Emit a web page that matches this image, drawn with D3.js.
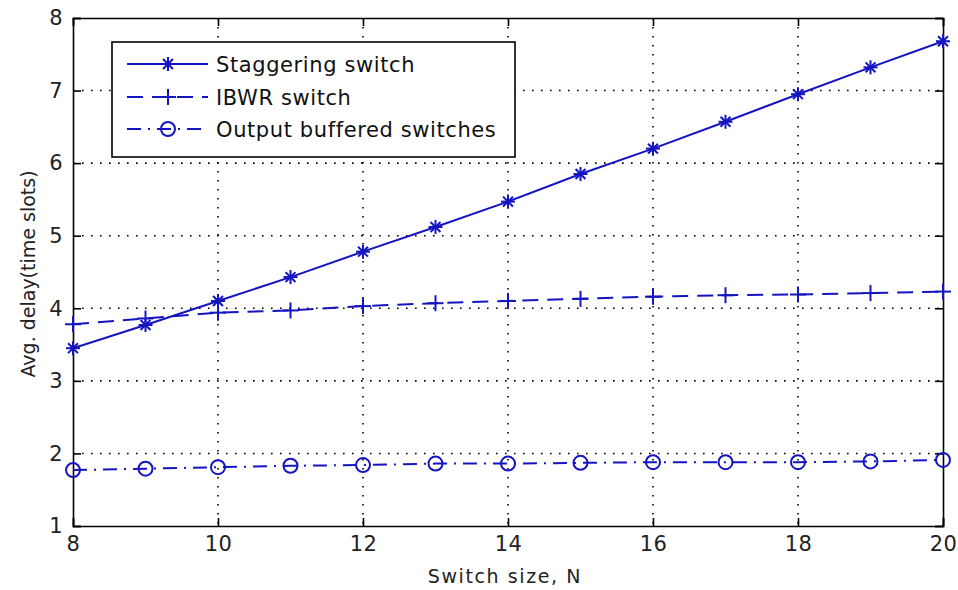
<!DOCTYPE html>
<html><head><meta charset="utf-8">
<script src="https://cdn.jsdelivr.net/npm/d3@7"></script>
<style>body{margin:0;background:#fff}svg{display:block}text{font-family:"DejaVu Sans",Arial,sans-serif}</style>
</head><body><svg id="c" width="958" height="590"></svg>
<script>
const switchSizes = [8,9,10,11,12,13,14,15,16,17,18,19,20];
const staggering = [3.45,3.77,4.10,4.43,4.78,5.12,5.47,5.85,6.20,6.57,6.95,7.32,7.68];
const ibwr = [3.78,3.86,3.94,3.97,4.03,4.07,4.10,4.13,4.16,4.18,4.19,4.21,4.23];
const outputBuffered = [1.77,1.79,1.81,1.83,1.84,1.86,1.86,1.87,1.88,1.88,1.88,1.89,1.91];
const xTicks = [8,10,12,14,16,18,20];
const yTicks = [1,2,3,4,5,6,7,8];
const seriesNames = ["Staggering switch","IBWR switch","Output buffered switches"];

const svg = d3.select("#c");
const L=73,R=943,T=18,B=526;
const x = d3.scaleLinear().domain([8,20]).range([L,R]);
const y = d3.scaleLinear().domain([1,8]).range([B,T]);
const blue = "#1414c0";
const fs = 19;
const font = "DejaVu Sans, Arial, sans-serif";

// grid
const g = svg.append("g");
xTicks.slice(1,-1).forEach(v=>g.append("line").attr("x1",x(v)).attr("x2",x(v)).attr("y1",T).attr("y2",B)
  .attr("stroke","#000").attr("stroke-width",1.6).attr("stroke-dasharray","1.6,7.4"));
yTicks.slice(1,-1).forEach(v=>g.append("line").attr("y1",y(v)).attr("y2",y(v)).attr("x1",L).attr("x2",R)
  .attr("stroke","#000").attr("stroke-width",1.6).attr("stroke-dasharray","1.6,7.4"));

// axes (inside ticks)
const ax = svg.append("g");
ax.append("g").attr("transform",`translate(0,${B})`).call(d3.axisBottom(x).tickValues(xTicks).tickSize(-8).tickPadding(10).tickFormat(d3.format("d")));
ax.append("g").attr("transform",`translate(0,${T})`).call(d3.axisTop(x).tickValues(xTicks).tickSize(-8).tickFormat(""));
ax.append("g").attr("transform",`translate(${L},0)`).call(d3.axisLeft(y).tickValues(yTicks).tickSize(-8).tickPadding(10).tickFormat(d3.format("d")));
ax.append("g").attr("transform",`translate(${R},0)`).call(d3.axisRight(y).tickValues(yTicks).tickSize(-8).tickFormat(""));
ax.selectAll(".domain").attr("stroke","#000").attr("stroke-width",1.6);
ax.selectAll(".tick line").attr("stroke","#000").attr("stroke-width",1.6);
ax.selectAll("text").attr("font-size",21).attr("fill","#222").attr("font-family",font).attr("letter-spacing",0.5);

// axis labels
svg.append("text").attr("x",505).attr("y",583).attr("text-anchor","middle").attr("font-size",fs).attr("letter-spacing",1.6).attr("fill","#222").text("Switch size, N");
svg.append("text").attr("transform",`translate(35,274) rotate(-90)`).attr("text-anchor","middle").attr("font-size",fs).attr("fill","#222").text("Avg. delay(time slots)");

const line = d3.line().x(d=>x(d[0])).y(d=>y(d[1]));
const zip = arr => switchSizes.map((s,i)=>[s,arr[i]]);

function star(sel,cx,cy){
  const r=7;
  [0,45,90,135].forEach(a=>{const rad=a*Math.PI/180;
    sel.append("line").attr("x1",cx-r*Math.cos(rad)).attr("y1",cy-r*Math.sin(rad)).attr("x2",cx+r*Math.cos(rad)).attr("y2",cy+r*Math.sin(rad)).attr("stroke",blue).attr("stroke-width",2);});
}
function plus(sel,cx,cy){
  const r=8;
  sel.append("line").attr("x1",cx-r).attr("x2",cx+r).attr("y1",cy).attr("y2",cy).attr("stroke",blue).attr("stroke-width",2);
  sel.append("line").attr("x1",cx).attr("x2",cx).attr("y1",cy-r).attr("y2",cy+r).attr("stroke",blue).attr("stroke-width",2);
}
function circ(sel,cx,cy){
  sel.append("circle").attr("cx",cx).attr("cy",cy).attr("r",7).attr("fill","none").attr("stroke",blue).attr("stroke-width",2);
}
const styles = [
  {data:staggering,dash:null,marker:star},
  {data:ibwr,dash:"16,9",marker:plus},
  {data:outputBuffered,dash:"14,7,2,7",marker:circ}
];
const pl = svg.append("g");
styles.forEach(s=>{
  pl.append("path").datum(zip(s.data)).attr("d",line).attr("fill","none").attr("stroke",blue).attr("stroke-width",2)
    .attr("stroke-dasharray",s.dash);
  zip(s.data).forEach(d=>s.marker(pl,x(d[0]),y(d[1])));
});

// legend
const lg = svg.append("g");
lg.append("rect").attr("x",112).attr("y",42).attr("width",403).attr("height",115).attr("fill","#fff").attr("stroke","#000").attr("stroke-width",1.6);
const rows=[64,97,129];
styles.forEach((s,i)=>{
  const yy=rows[i];
  lg.append("line").attr("x1",127).attr("x2",208).attr("y1",yy).attr("y2",yy).attr("stroke",blue).attr("stroke-width",2).attr("stroke-dasharray",s.dash);
  s.marker(lg,168,yy);
  lg.append("text").attr("x",216).attr("y",yy+8).attr("font-size",21).attr("letter-spacing",0.6).attr("fill","#111").text(seriesNames[i]);
});
</script></body></html>
